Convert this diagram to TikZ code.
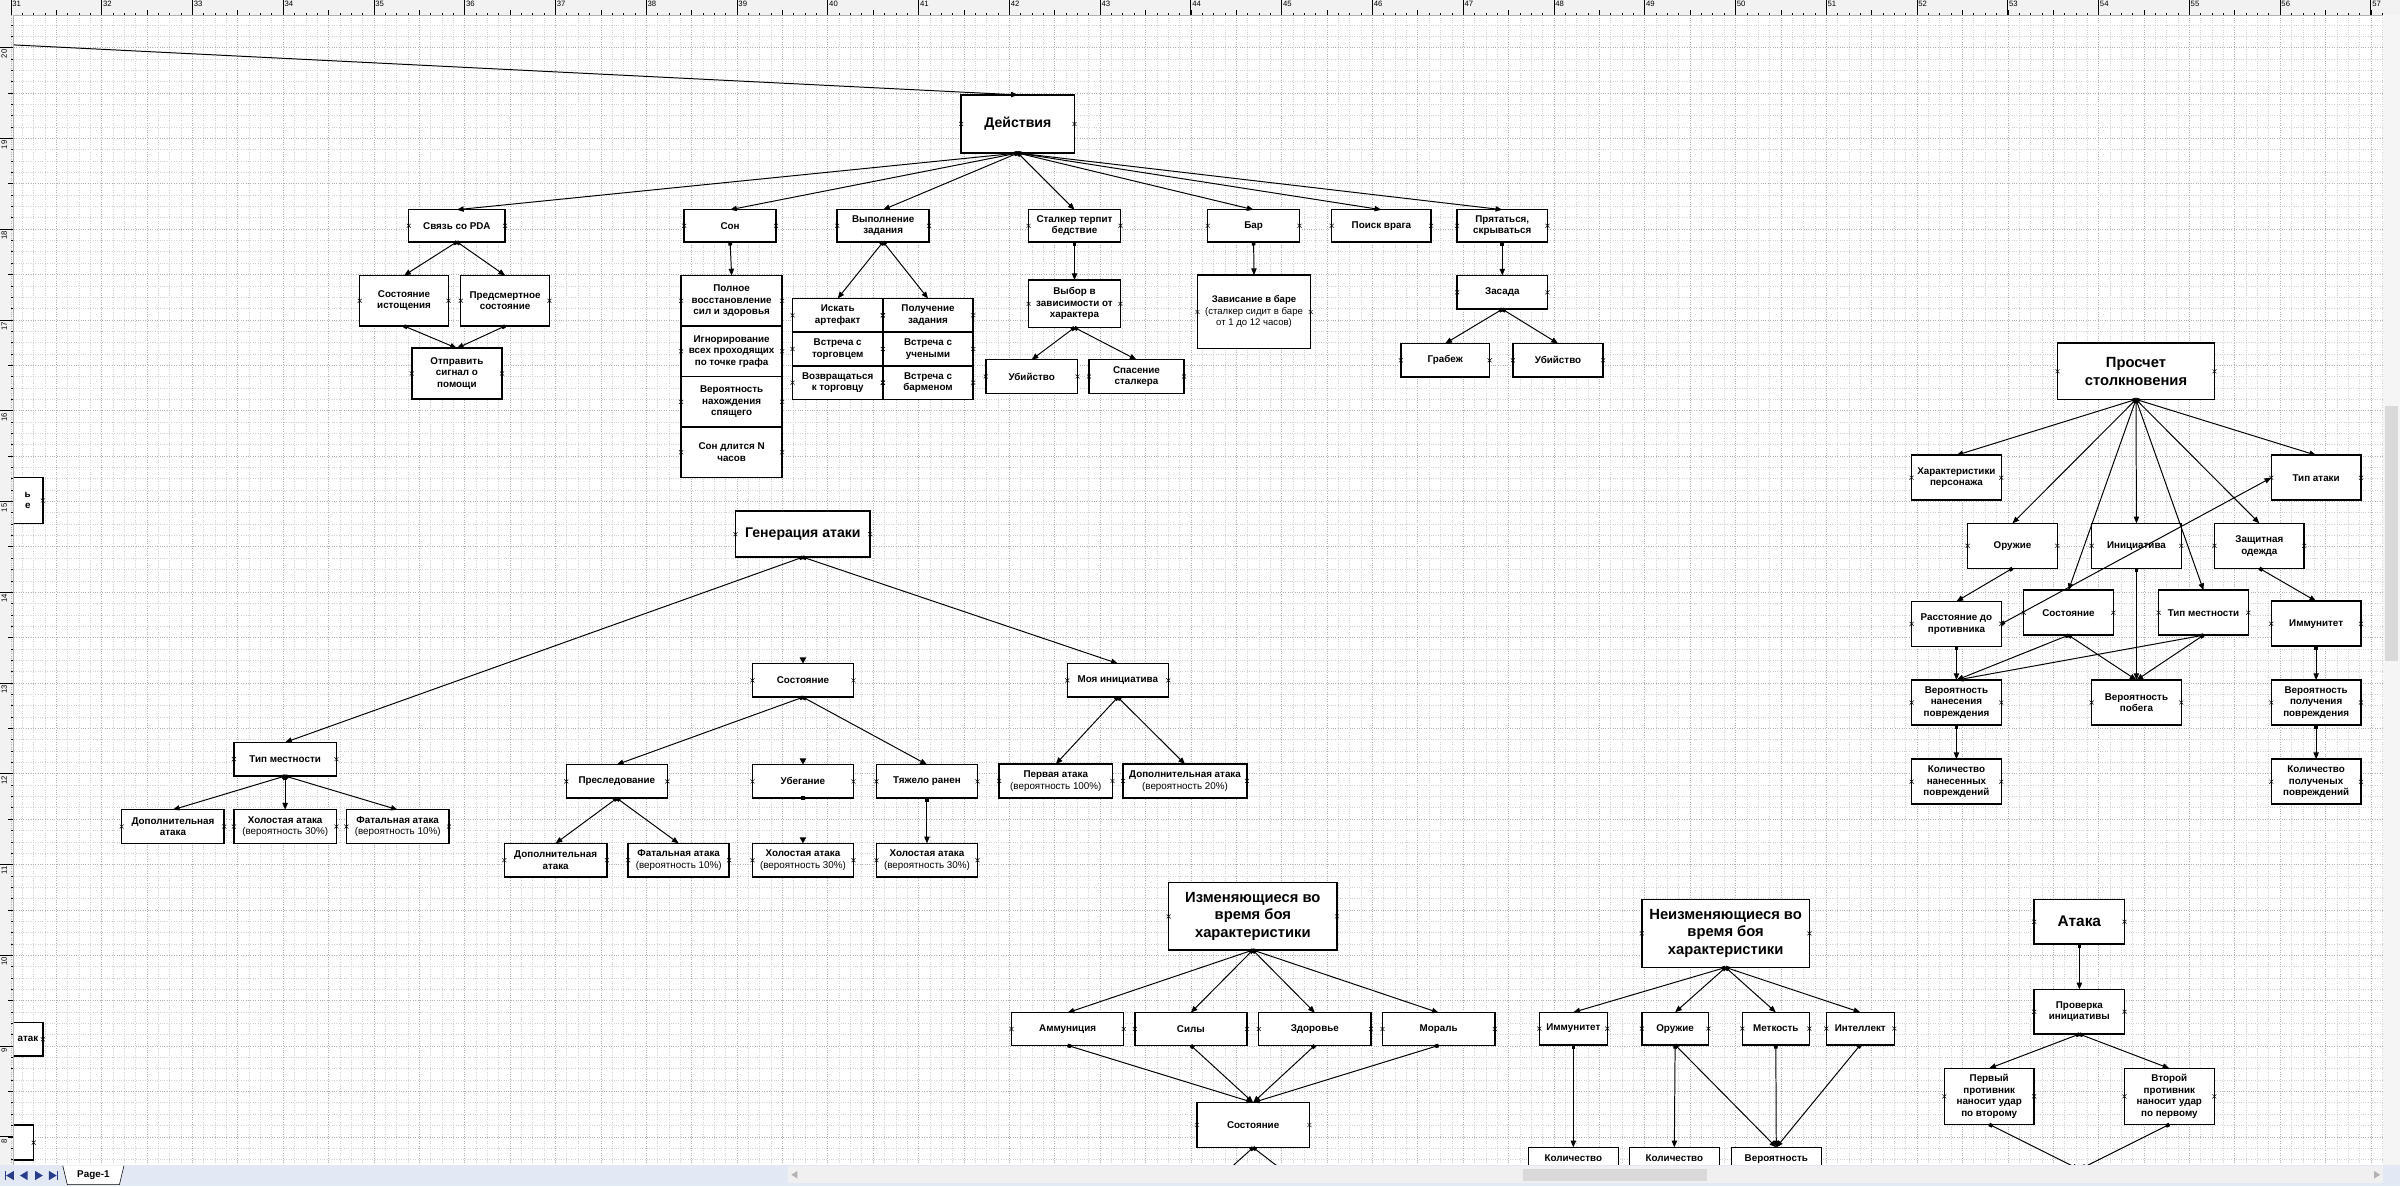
\documentclass[tikz,border=0pt]{standalone}
\usepackage{fontspec}
\setmainfont{Liberation Sans}
\usetikzlibrary{arrows.meta,positioning}
\newlength{\pxu}\setlength{\pxu}{0.038265cm}
\newcommand{\lblfont}{\fontsize{7}{8.2}\selectfont\bfseries}
\definecolor{navc}{RGB}{40,60,140}
\definecolor{barbg}{RGB}{226,233,244}
\tikzset{
  box/.style={draw, line width=1.1pt, fill=white, align=center, inner sep=0.8pt, outer sep=0pt, font=\lblfont},
  sz/.style 2 args={minimum width=#1\pxu, minimum height=#2\pxu},
  cell/.style={box, sz={66}{33}},
  tcell/.style={box, sz={59}{22}},
  rbox/.style={box, sz={58.6}{29.4}},
  ttl/.style={font=\fontsize{10.5}{12.6}\selectfont\bfseries},
  ttlm/.style={font=\fontsize{10}{12}\selectfont\bfseries},
  link/.style={{Square[length=2.6pt,width=2.6pt]}-{Triangle[length=4.8pt,width=3.8pt]}, line width=0.7pt},
  xmk/.style={line width=0.35pt},
  gridln/.style={gray!35, line width=0.3pt, dash pattern=on 0.5pt off 1.2pt},
  gridmaj/.style={gray!60, line width=0.3pt, dash pattern=on 0.5pt off 1.2pt},
  rulnum/.style={font=\fontsize{5.5}{6}\selectfont, inner sep=0.3pt}
}

\begin{document}
\begin{tikzpicture}[x=0.038265cm, y=-0.038265cm]
\useasboundingbox (0,0) rectangle (1568,775);
\fill[gray!10] (0,0) rectangle (1568,775);
\fill[white] (9,10) rectangle (1557,761);

\foreach \k in {0,...,209} \draw[gridln] ({7+\k*7.413},10) -- ({7+\k*7.413},761);
\foreach \k in {0,4,...,208} \draw[gridmaj] ({7+\k*7.413},10) -- ({7+\k*7.413},761);
\foreach \k in {-2,...,98} \draw[gridln] (9,{31+\k*7.413}) -- (1557,{31+\k*7.413});
\foreach \k in {0,4,...,96} \draw[gridmaj] (9,{31+\k*7.413}) -- (1557,{31+\k*7.413});

\foreach \k in {0,...,209} \draw[line width=0.3pt] ({7+\k*7.413},10) -- ++(0,-1.8);
\foreach \k in {0,4,...,208} \draw[line width=0.3pt] ({7+\k*7.413},10) -- ++(0,-3.5);
\foreach \n in {31,...,57} {
  \draw[line width=0.3pt] ({7+(\n-31)*59.3},10) -- ++(0,-10);
  \node[rulnum, anchor=north west] at ({7.6+(\n-31)*59.3},0.4) {\n};
}
\foreach \k in {-2,...,98} \draw[line width=0.3pt] (9,{31+\k*7.413}) -- ++(-1.8,0);
\foreach \k in {0,4,...,96} \draw[line width=0.3pt] (9,{31+\k*7.413}) -- ++(-3.5,0);
\foreach \v in {8,...,20} {
  \draw[line width=0.3pt] (9,{31+(20-\v)*59.3}) -- ++(-9,0);
  \node[rulnum, rotate=90, anchor=north east] at (0.5,{32+(20-\v)*59.3}) {\v};
}
\draw[gray!60, line width=0.4pt] (9,10) -- (1557,10) (9,10) -- (9,761);

\begin{scope}
\clip (9,10) rectangle (1557,761);

\node[box, ttlm, sz={74}{38}] (act) at (665,81) {Действия};
\node[box, sz={63}{21}] (pda) at (298.5,147.5) {Связь со PDA};
\node[box, sz={60}{21}] (son) at (477,147.5) {Сон};
\node[box, sz={60}{21}] (task) at (577,147.5) {Выполнение\\задания};
\node[box, sz={60}{21}] (stalk) at (702,147.5) {Сталкер терпит\\бедствие};
\node[box, sz={60}{21}] (bar) at (819,147.5) {Бар};
\node[box, sz={65}{21}] (seek) at (902.5,147.5) {Поиск врага};
\node[box, sz={59}{21}] (hide) at (981.5,147.5) {Прятаться,\\скрываться};

\node[box, sz={58}{33}] (exh) at (264,196.5) {Состояние\\истощения};
\node[box, sz={58}{33}] (dying) at (330,196.5) {Предсмертное\\состояние};
\node[box, sz={59}{33}] (sos) at (298.5,244) {Отправить\\сигнал о\\помощи};

\node[cell] (sl1) at (478,196.5) {Полное\\восстановление\\сил и здоровья};
\node[cell, below=0pt of sl1] (sl2) {Игнорирование\\всех проходящих\\по точке графа};
\node[cell, below=0pt of sl2] (sl3) {Вероятность\\нахождения\\спящего};
\node[cell, below=0pt of sl3] (sl4) {Сон длится N\\часов};

\node[tcell] (tk1) at (547.3,206) {Искать\\артефакт};
\node[tcell, right=0pt of tk1] (tk2) {Получение\\задания};
\node[tcell, below=0pt of tk1] (tk3) {Встреча с\\торговцем};
\node[tcell, below=0pt of tk2] (tk4) {Встреча с\\учеными};
\node[tcell, below=0pt of tk3] (tk5) {Возвращаться\\к торговцу};
\node[tcell, below=0pt of tk4] (tk6) {Встреча с\\барменом};

\node[box, sz={60}{31}] (pick) at (702,198.5) {Выбор в\\зависимости от\\характера};
\node[box, sz={60}{22}] (kill) at (674,246) {Убийство};
\node[box, sz={62}{22}] (rescue) at (742.5,246) {Спасение\\сталкера};
\node[box, sz={74}{48}, font=\fontsize{6.8}{8.2}\selectfont\bfseries] (stay) at (819.3,203.8) {Зависание в баре\\\textmd{(сталкер сидит в баре}\\\textmd{от 1 до 12 часов)}};
\node[box, sz={59}{22}] (ambush) at (981.5,191) {Засада};
\node[box, sz={58}{22}] (rob) at (944.2,235.4) {Грабеж};
\node[box, sz={59}{22}] (murder) at (1017.9,235.4) {Убийство};

\node[box, ttlm, sz={88}{30}] (gen) at (524.5,349) {Генерация атаки};
\node[box, sz={67}{22}] (terr) at (186.3,496) {Тип местности};
\node[box, sz={67}{22}] (extra) at (113,540) {Дополнительная\\атака};
\node[box, sz={67}{22}] (idle) at (186.3,540) {Холостая атака\\\textmd{(вероятность 30\%)}};
\node[box, sz={67}{22}] (fatal) at (259.8,540) {Фатальная атака\\\textmd{(вероятность 10\%)}};
\node[box, sz={66}{22}] (cond) at (524.6,444.5) {Состояние};
\node[box, sz={66}{22}] (chase) at (403,510.5) {Преследование};
\node[box, sz={66}{22}] (flee) at (524.6,510.5) {Убегание};
\node[box, sz={66}{22}] (hurt) at (605.6,510.5) {Тяжело ранен};
\node[box, sz={67}{22}] (extrab) at (363,562) {Дополнительная\\атака};
\node[box, sz={66}{22}] (fatalb) at (443.4,562) {Фатальная атака\\\textmd{(вероятность 10\%)}};
\node[box, sz={66}{22}] (idleb) at (524.6,562) {Холостая атака\\\textmd{(вероятность 30\%)}};
\node[box, sz={66}{22}] (idlec) at (605.6,562) {Холостая атака\\\textmd{(вероятность 30\%)}};
\node[box, sz={66}{22}] (myinit) at (730.3,444.5) {Моя инициатива};
\node[box, sz={74}{22}] (first) at (689.8,510.2) {Первая атака\\\textmd{(вероятность 100\%)}};
\node[box, sz={81}{22}] (extrac) at (774.2,510.2) {Дополнительная атака\\\textmd{(вероятность 20\%)}};

\node[box, ttl, sz={102.5}{36.7}] (calc) at (1395.5,242.6) {Просчет\\столкновения};
\node[rbox] (chr) at (1278.2,312.1) {Характеристики\\персонажа};
\node[rbox] (atype) at (1513.2,312.1) {Тип атаки};
\node[rbox] (weap) at (1314.8,356.6) {Оружие};
\node[rbox] (rinit) at (1395.8,356.6) {Инициатива};
\node[rbox] (armor) at (1476.1,356.6) {Защитная\\одежда};
\node[rbox] (dist) at (1278.2,407.6) {Расстояние до\\противника};
\node[rbox] (rcond) at (1351.4,400.3) {Состояние};
\node[rbox] (rterr) at (1439.6,400.3) {Тип местности};
\node[rbox] (imm) at (1513.2,407.5) {Иммунитет};
\node[rbox] (pdmg) at (1278.2,459) {Вероятность\\нанесения\\повреждения};
\node[rbox] (pesc) at (1395.8,459) {Вероятность\\побега};
\node[rbox] (prcv) at (1513.2,459) {Вероятность\\получения\\повреждения};
\node[rbox] (ndmg) at (1278.2,510.7) {Количество\\нанесенных\\повреждений};
\node[rbox] (nrcv) at (1513.2,510.7) {Количество\\полученых\\повреждений};

\node[box, ttl, sz={110}{44}] (chg) at (818.5,598.7) {Изменяющиеся во\\время боя\\характеристики};
\node[box, sz={73.3}{21.4}] (ammo) at (697.5,672.3) {Аммуниция};
\node[box, sz={73.3}{21.4}] (str) at (778,672.3) {Силы};
\node[box, sz={73.3}{21.4}] (hp) at (859,672.3) {Здоровье};
\node[box, sz={73.3}{21.4}] (mor) at (939.9,672.3) {Мораль};
\node[box, sz={73.5}{29.4}] (bcond) at (818.7,735) {Состояние};

\node[box, ttl, sz={109.5}{44.5}] (fix) at (1127.4,609.8) {Неизменяющиеся во\\время боя\\характеристики};
\node[box, sz={44.4}{21.3}] (fimm) at (1027.9,672) {Иммунитет};
\node[box, sz={43.5}{21.3}] (fweap) at (1094.4,672) {Оружие};
\node[box, sz={43.8}{21.3}] (facc) at (1160.2,672) {Меткость};
\node[box, sz={44.4}{21.3}] (fint) at (1215.4,672) {Интеллект};
\node[box, sz={58.8}{29.4}, anchor=north] (fcnt) at (1027.9,749.6) {Количество\\\phantom{X}\\\phantom{X}};
\node[box, sz={58.8}{29.4}, anchor=north] (fcntb) at (1093.9,749.6) {Количество\\\phantom{X}\\\phantom{X}};
\node[box, sz={58.8}{29.4}, anchor=north] (fprob) at (1160.5,749.6) {Вероятность\\\phantom{X}\\\phantom{X}};

\node[box, font=\fontsize{11}{13}\selectfont\bfseries, sz={59}{29.2}] (att) at (1358.5,602.2) {Атака};
\node[box, sz={59}{29.2}] (chk) at (1358.5,661) {Проверка\\инициативы};
\node[box, sz={58.7}{36.6}] (hit1) at (1299.6,716.3) {Первый\\противник\\наносит удар\\по второму};
\node[box, sz={58.7}{36.6}] (hit2) at (1417.3,716.3) {Второй\\противник\\наносит удар\\по первому};

\node[box, sz={80}{30}, text width=64\pxu, align=right] (cutA) at (-12,327) {ь\\е};
\node[box, sz={76}{22}, text width=70\pxu, align=right] (cutB) at (-10,679) {атак};
\node[box, sz={62}{23}] (cutC) at (-9,746.5) {};

\foreach \n in {act,pda,son,task,stalk,bar,seek,hide,exh,dying,sos,sl1,sl2,sl3,sl4,tk1,tk2,tk3,tk4,tk5,tk6,pick,kill,rescue,stay,ambush,rob,murder,gen,terr,extra,idle,fatal,cond,chase,flee,hurt,extrab,fatalb,idleb,idlec,myinit,first,extrac,calc,chr,atype,weap,rinit,armor,dist,rcond,rterr,imm,pdmg,pesc,prcv,ndmg,nrcv,chg,ammo,str,hp,mor,bcond,fix,fimm,fweap,facc,fint,fcnt,fcntb,fprob,att,chk,hit1,hit2,cutA,cutB,cutC}
  \foreach \a in {west,east}
    \draw[xmk] ([shift={(-1.3,-1.3)}]\n.\a) -- ++(2.6,2.6) ([shift={(-1.3,1.3)}]\n.\a) -- ++(2.6,-2.6);

\coordinate (src) at (-40,26.9);
\coordinate (bl) at (774,790);
\coordinate (br) at (871,790);
\coordinate (meet) at (1358.5,764);

\draw[link] (src) -- (act.north);
\foreach \n in {pda,son,task,stalk,bar,seek,hide} \draw[link] (act.south) -- (\n.north);
\foreach \n in {exh,dying} \draw[link] (pda.south) -- (\n.north);
\foreach \n in {exh,dying} \draw[link] (\n.south) -- (sos.north);
\draw[link] (son.south) -- (sl1.north);
\foreach \n in {tk1,tk2} \draw[link] (task.south) -- (\n.north);
\draw[link] (stalk.south) -- (pick.north);
\foreach \n in {kill,rescue} \draw[link] (pick.south) -- (\n.north);
\draw[link] (bar.south) -- (stay.north);
\draw[link] (hide.south) -- (ambush.north);
\foreach \n in {rob,murder} \draw[link] (ambush.south) -- (\n.north);

\foreach \n in {terr,myinit} \draw[link] (gen.south) -- (\n.north);
\foreach \n in {extra,idle,fatal} \draw[link] (terr.south) -- (\n.north);
\foreach \n in {chase,hurt} \draw[link] (cond.south) -- (\n.north);
\foreach \n in {extrab,fatalb} \draw[link] (chase.south) -- (\n.north);
\draw[link] (hurt.south) -- (idlec.north);
\foreach \n in {first,extrac} \draw[link] (myinit.south) -- (\n.north);
\foreach \n in {cond,flee,idleb} \fill (\n.north) -- ++(-2.2,-4) -- ++(4.4,0) -- cycle;
\fill (flee.south) ++(-1.3,-1.3) rectangle ++(2.6,2.6);

\foreach \n in {chr,weap,rcond,rinit,rterr,armor,atype} \draw[link] (calc.south) -- (\n.north);
\draw[link] (dist.east) -- (atype.west);
\draw[link] (weap.south) -- (dist.north);
\draw[link] (armor.south) -- (imm.north);
\draw[link] (rinit.south) -- (pesc.north);
\foreach \n in {rcond,rterr} {
  \draw[link] (\n.south) -- (pdmg.north);
  \draw[link] (\n.south) -- (pesc.north);
}
\draw[link] (dist.south) -- (pdmg.north);
\draw[link] (imm.south) -- (prcv.north);
\draw[link] (pdmg.south) -- (ndmg.north);
\draw[link] (prcv.south) -- (nrcv.north);

\foreach \n in {ammo,str,hp,mor} {
  \draw[link] (chg.south) -- (\n.north);
  \draw[link] (\n.south) -- (bcond.north);
}
\draw[link] (bcond.south) -- (bl);
\draw[link] (bcond.south) -- (br);
\foreach \n in {fimm,fweap,facc,fint} \draw[link] (fix.south) -- (\n.north);
\draw[link] (fimm.south) -- (fcnt.north);
\draw[link] (fweap.south) -- (fcntb.north);
\foreach \n in {fweap,facc,fint} \draw[link] (\n.south) -- (fprob.north);
\draw[link] (att.south) -- (chk.north);
\foreach \n in {hit1,hit2} {
  \draw[link] (chk.south) -- (\n.north);
  \draw[link] (\n.south) -- (meet);
}
\end{scope}

\fill[barbg] (0,761) rectangle (1568,775);
\fill[gray!8] (1557,10) rectangle (1568,761);
\fill[gray!30] (1558.5,265) rectangle (1566.5,432);
\fill[gray!12] (515,762) rectangle (1557,773);
\fill[gray!30] (995,763.5) rectangle (1115,771.5);
\fill[gray!60] (517,767.5) -- (521,765) -- (521,770) -- cycle;
\fill[gray!60] (1555,767.5) -- (1551,765) -- (1551,770) -- cycle;
\fill[navc] (3,765) rectangle (4,771);
\fill[navc] (4,768) -- (9,765) -- (9,771) -- cycle;
\fill[navc] (13,768) -- (18,765) -- (18,771) -- cycle;
\fill[navc] (23,765) -- (28,768) -- (23,771) -- cycle;
\fill[navc] (32,765) -- (37,768) -- (32,771) -- cycle;
\fill[navc] (37,765) rectangle (38,771);
\draw[fill=white, line width=0.4pt] (41,761.5) -- (44,774) -- (78,774) -- (81,761.5);
\node[font=\fontsize{7}{8}\selectfont\bfseries, inner sep=0pt] (tab) at (61,768) {Page-1};
\end{tikzpicture}
\end{document}
